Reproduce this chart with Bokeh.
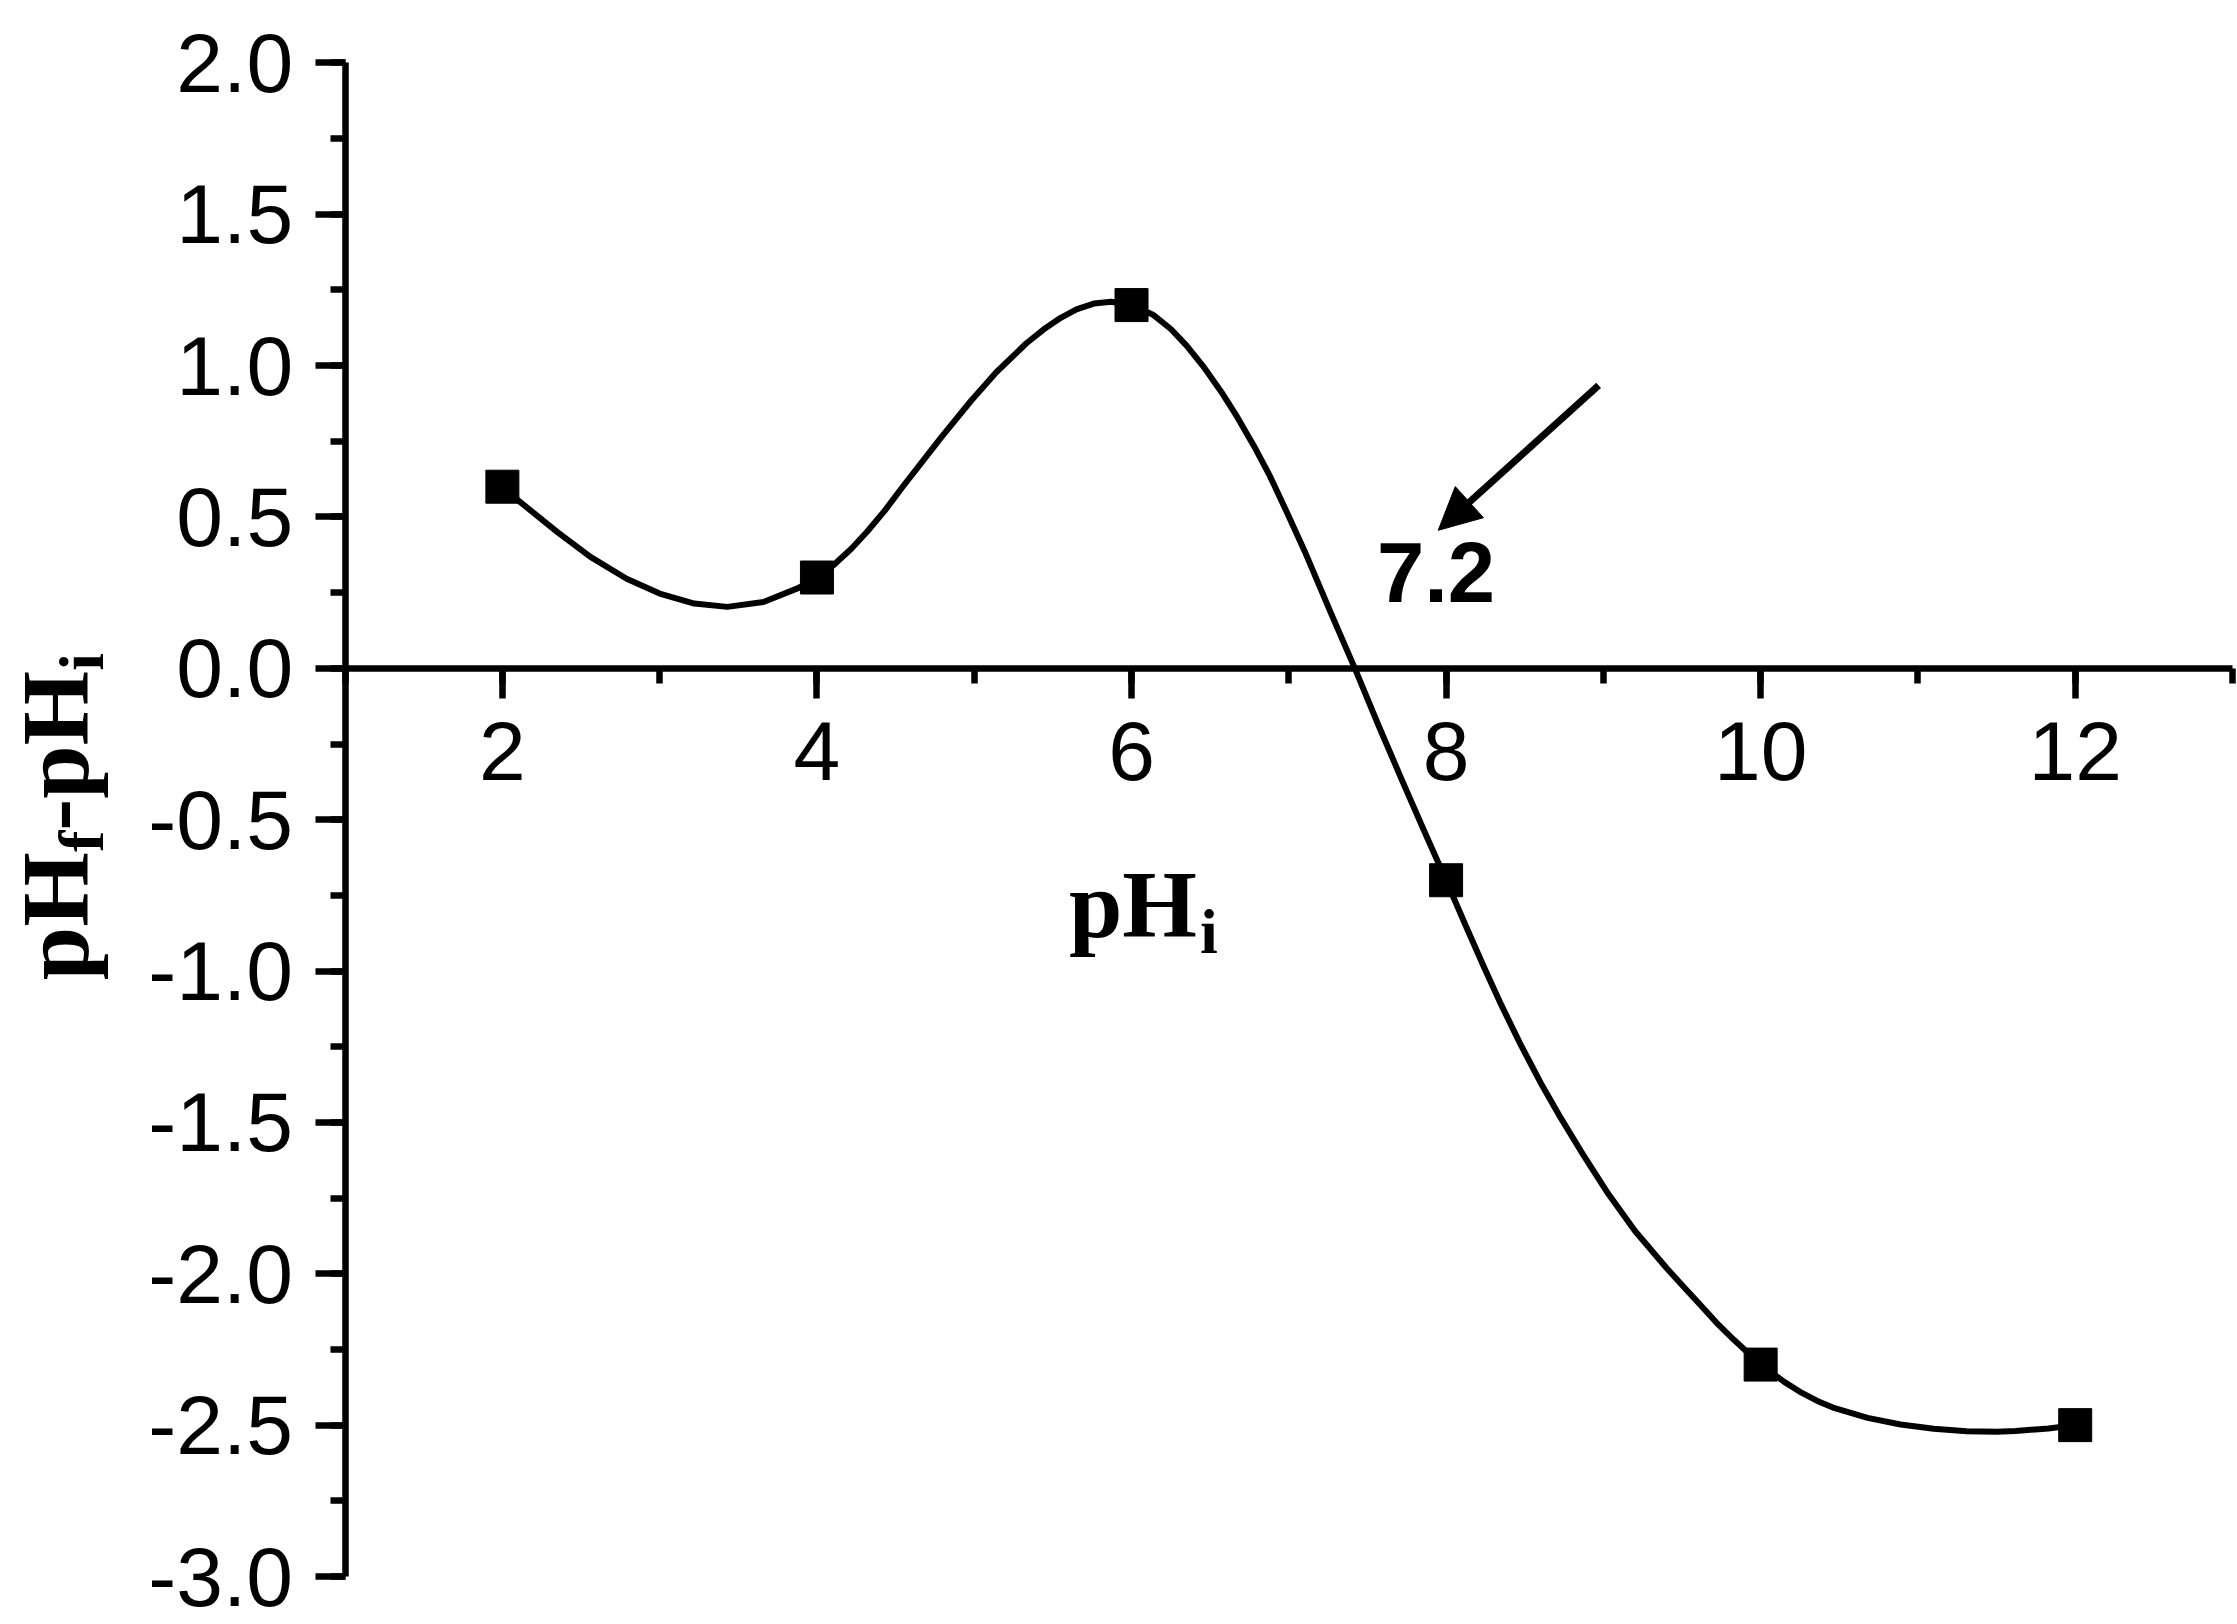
from bokeh.plotting import figure
from bokeh.models import (Range1d, SingleIntervalTicker, PrintfTickFormatter,
                          Label, Arrow, NormalHead)
from bokeh.embed import file_html
from bokeh.resources import INLINE

# ---- data ----
ph_i = [2, 4, 6, 8, 10, 12]
delta_ph = [0.6, 0.3, 1.2, -0.7, -2.3, -2.5]

# smooth curve drawn through the points
curve_x = [2.00, 2.10, 2.35, 2.56, 2.79, 3.00, 3.22, 3.43, 3.66, 3.88, 4.00,
           4.11, 4.22, 4.32, 4.43, 4.55, 4.67, 4.79, 4.98, 5.14, 5.33, 5.44,
           5.55, 5.65, 5.76, 5.87, 6.00, 6.14, 6.25, 6.35, 6.46, 6.57, 6.67,
           6.78, 6.88, 6.99, 7.10, 7.27, 7.42, 7.57, 7.72, 7.87, 8.00, 8.13,
           8.24, 8.34, 8.47, 8.60, 8.73, 8.86, 9.03, 9.20, 9.40, 9.51, 9.62,
           9.72, 9.83, 10.00, 10.15, 10.25, 10.36, 10.46, 10.68, 10.89, 11.10,
           11.31, 11.50, 11.62, 11.83, 12.00]
curve_y = [0.600, 0.555, 0.450, 0.368, 0.296, 0.247, 0.214, 0.203, 0.219, 0.265, 0.300,
           0.343, 0.396, 0.452, 0.520, 0.603, 0.683, 0.763, 0.884, 0.978, 1.073, 1.119,
           1.158, 1.186, 1.205, 1.211, 1.200, 1.167, 1.121, 1.066, 0.995, 0.914, 0.832,
           0.733, 0.635, 0.513, 0.388, 0.180, 0.000, -0.188, -0.370, -0.548, -0.700, -0.856,
           -0.986, -1.100, -1.239, -1.368, -1.486, -1.597, -1.735, -1.858, -1.980, -2.043, -2.105,
           -2.162, -2.218, -2.300, -2.357, -2.390, -2.420, -2.442, -2.476, -2.498, -2.512,
           -2.520, -2.522, -2.519, -2.511, -2.500]

x_axis_span = [1, 13]
y_axis_span = [-3, 2]
x_ticks_interval = 2
y_ticks_interval = 0.5
annotation_text = "7.2"
annotation_pos = [7.56, 0.215]
arrow_start = [8.97, 0.935]
arrow_end = [7.95, 0.456]

# ---- layout (pixel geometry of the canvas) ----
W, H = 2237, 1624
AX_L, AX_R = 344.6, 2232.0        # canvas x of x=1 and x=13
AX_T, AX_B = 62.4, 1576.0         # canvas y of y=2 and y=-3
ppu_x = (AX_R - AX_L) / (x_axis_span[1] - x_axis_span[0])
ppu_y = (AX_B - AX_T) / (y_axis_span[1] - y_axis_span[0])
xr0 = x_axis_span[0] - AX_L / ppu_x
xr1 = xr0 + W / ppu_x
yr1 = y_axis_span[1] + AX_T / ppu_y
yr0 = yr1 - H / ppu_y

p = figure(width=W, height=H, output_backend="svg", toolbar_location=None,
           title=None, x_range=Range1d(xr0, xr1), y_range=Range1d(yr0, yr1),
           min_border_left=0, min_border_right=0,
           min_border_top=0, min_border_bottom=0)
p.outline_line_color = None
p.grid.visible = False
p.background_fill_color = "white"
p.border_fill_color = "white"

xa = p.xaxis[0]
ya = p.yaxis[0]
xa.fixed_location = 0
xa.bounds = (x_axis_span[0], x_axis_span[1])
ya.fixed_location = x_axis_span[0]
ya.bounds = (y_axis_span[0], y_axis_span[1])
xa.ticker = SingleIntervalTicker(interval=x_ticks_interval, num_minor_ticks=2)
ya.ticker = SingleIntervalTicker(interval=y_ticks_interval, num_minor_ticks=2)
ya.formatter = PrintfTickFormatter(format="%.1f")
for ax in (xa, ya):
    ax.axis_line_width = 6.5
    ax.axis_line_color = "black"
    ax.major_tick_line_width = 6.5
    ax.minor_tick_line_width = 6.5
    ax.major_tick_line_color = "black"
    ax.minor_tick_line_color = "black"
    ax.major_tick_out = 30
    ax.major_tick_in = 0
    ax.minor_tick_out = 15
    ax.minor_tick_in = 0
    ax.major_label_text_font = "Liberation Sans"
    ax.major_label_text_font_size = "84px"
    ax.major_label_text_color = "black"
xa.major_label_standoff = 24
ya.major_label_standoff = 22

# ---- data marks ----
p.line(curve_x, curve_y, line_width=6, line_color="black", line_join="round")
p.scatter(ph_i, delta_ph, marker="square", size=33, fill_color="black",
          line_color="black")

# baseline correction for Bokeh's alphabetic text placement (fraction of em)
BASE_FIX = 0.36

# ---- annotation ----
p.add_layout(Label(x=annotation_pos[0], y=annotation_pos[1] + BASE_FIX * 85 / ppu_y,
                   text=annotation_text,
                   text_font="Liberation Sans", text_font_style="bold",
                   text_font_size="85px", text_color="black",
                   text_align="left", text_baseline="alphabetic"))
p.add_layout(Arrow(end=NormalHead(size=42, fill_color="black", line_color="black",
                                  line_width=1),
                   x_start=arrow_start[0], y_start=arrow_start[1],
                   x_end=arrow_end[0], y_end=arrow_end[1],
                   line_width=7, line_color="black"))

# ---- axis titles (with subscripts) ----
FS, SFS = 96, 64
SERIF = "Liberation Serif"

def lab(x, y, t, size, angle=0.0, align="left"):
    p.add_layout(Label(x=x, y=y, text=t, text_font=SERIF, text_font_style="bold",
                       text_font_size=f"{size}px", text_color="black", angle=angle,
                       text_align=align, text_baseline="alphabetic"))

# x title: pH_i  (baseline ~271 px under the x axis)
xt_right = x_axis_span[0] + (1196.5 - AX_L) / ppu_x
xt_base = -271 / ppu_y + BASE_FIX * FS / ppu_y
lab(xt_right, xt_base, "pH", FS, align="right")
lab(xt_right + 3 / ppu_x, xt_base - 27 / ppu_y, "i", SFS)

# y title: pH_f-pH_i, rotated, reading upward
yb_x = xr0 + (89.5 - BASE_FIX * FS) / ppu_x
ys_x = yb_x + 26 / ppu_x
y_start = -1.03
adv_pH = (0.556 + 0.778) * FS / ppu_y
adv_f = 0.333 * SFS / ppu_y
adv_mpH = (0.333 + 0.556 + 0.778) * FS / ppu_y
ang = 1.5707963267948966
lab(yb_x, y_start, "pH", FS, angle=ang)
lab(ys_x, y_start + adv_pH, "f", SFS, angle=ang)
lab(yb_x, y_start + adv_pH + adv_f, "-pH", FS, angle=ang)
lab(ys_x, y_start + adv_pH + adv_f + adv_mpH, "i", SFS, angle=ang)

open("out.html", "w").write(file_html(p, INLINE))
